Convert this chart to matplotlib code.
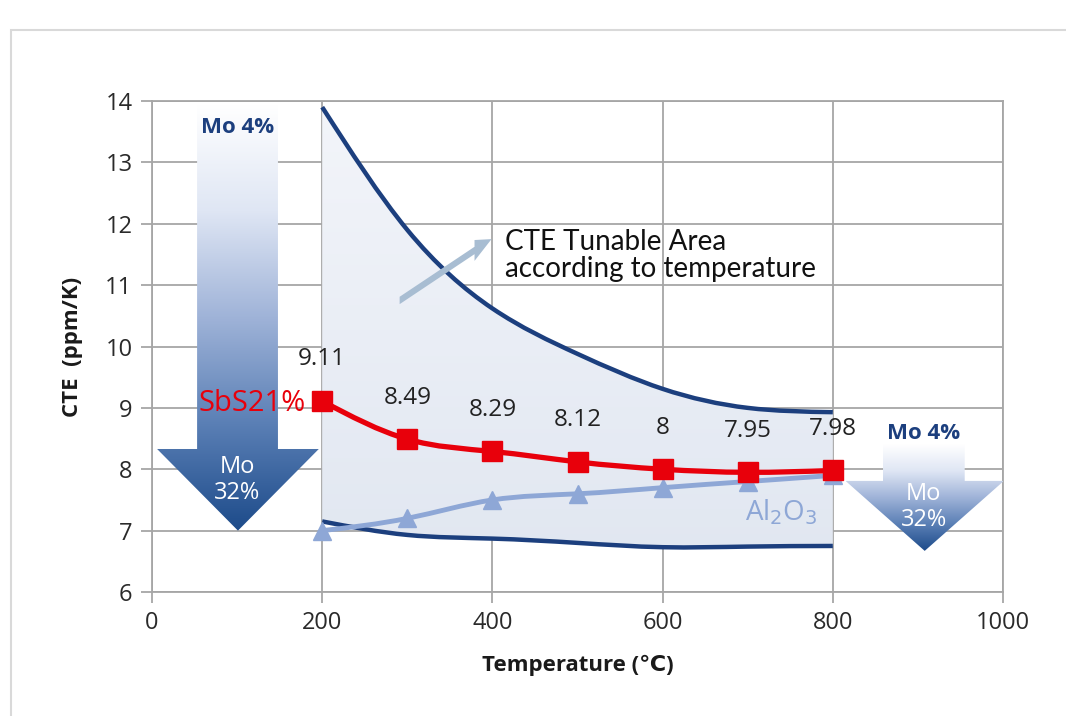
import numpy as np
import matplotlib
matplotlib.use("Agg")
import matplotlib.pyplot as plt
from matplotlib.path import Path
from matplotlib.patches import PathPatch, Polygon, Rectangle, FancyArrow
from matplotlib.colors import LinearSegmentedColormap

# data
temps = [200, 300, 400, 500, 600, 700, 800]
sbs21 = [9.11, 8.49, 8.29, 8.12, 8.00, 7.95, 7.98]
al2o3 = [7.0, 7.2, 7.5, 7.6, 7.7, 7.8, 7.9]
upper_bound = [13.9, 11.9, 10.62, 9.88, 9.31, 9.0, 8.93]
lower_bound = [7.15, 6.93, 6.87, 6.80, 6.73, 6.74, 6.75]
sbs_labels = ["9.11", "8.49", "8.29", "8.12", "8", "7.95", "7.98"]

DARK = "#1c3f7e"
RED = "#e8000b"
LIGHT = "#8ea7d6"
FONT = ["Open Sans", "DejaVu Sans"]


def smooth_path(xs, ys):
    """Natural cubic spline through the points, as bezier segments."""
    xs = np.asarray(xs, float)
    ys = np.asarray(ys, float)
    n = len(xs)
    h = np.diff(xs)
    # tangent system of a natural spline
    A = np.zeros((n, n))
    b = np.zeros(n)
    A[0, 0], A[0, 1] = 2 / h[0], 1 / h[0]
    b[0] = 3 * (ys[1] - ys[0]) / h[0] ** 2
    A[-1, -2], A[-1, -1] = 1 / h[-1], 2 / h[-1]
    b[-1] = 3 * (ys[-1] - ys[-2]) / h[-1] ** 2
    for i in range(1, n - 1):
        A[i, i - 1] = 1 / h[i - 1]
        A[i, i] = 2 / h[i - 1] + 2 / h[i]
        A[i, i + 1] = 1 / h[i]
        b[i] = 3 * ((ys[i] - ys[i - 1]) / h[i - 1] ** 2
                    + (ys[i + 1] - ys[i]) / h[i] ** 2)
    m = np.linalg.solve(A, b)
    verts = [(xs[0], ys[0])]
    codes = [Path.MOVETO]
    for i in range(n - 1):
        d = h[i] / 3
        verts += [(xs[i] + d, ys[i] + d * m[i]),
                  (xs[i + 1] - d, ys[i + 1] - d * m[i + 1]),
                  (xs[i + 1], ys[i + 1])]
        codes += [Path.CURVE4] * 3
    return Path(np.array(verts), codes)


def gradient_arrow(ax, x0, x1, hx0, hx1, top, neck, tip):
    xc = (hx0 + hx1) / 2
    poly = [(x0, top), (x1, top), (x1, neck), (hx1, neck), (xc, tip),
            (hx0, neck), (x0, neck)]
    patch = Polygon(poly, closed=True, facecolor="none", edgecolor="none")
    ax.add_patch(patch)
    cmap = LinearSegmentedColormap.from_list(
        "mo", ["#ffffff", "#dfe6f4", "#9fb3d8", "#5a7fb5", "#1d4b8a"])
    grad = np.linspace(0, 1, 256).reshape(-1, 1)
    im = ax.imshow(grad, cmap=cmap, extent=[hx0, hx1, tip, top],
                   origin="upper", aspect="auto", zorder=4)
    im.set_clip_path(patch)


plt.rcParams["font.family"] = FONT
fig = plt.figure(figsize=(10.66, 7.16), dpi=100)
fig.patches.append(Rectangle((11 / 1066, -0.05), 1.1, 1 - 30 / 716 + 0.05,
                             transform=fig.transFigure, fill=False,
                             edgecolor="#d9d9d9", lw=1.5))
ax = fig.add_axes([152 / 1066, 1 - 592 / 716, 851 / 1066, 491 / 716])

ax.set_xlim(0, 1000)
ax.set_ylim(6, 14)
ax.set_xticks(range(0, 1001, 200))
ax.set_yticks(range(6, 15))
ax.grid(True, color="#a6a6a6", lw=1.3)
ax.set_axisbelow(True)
for s in ax.spines.values():
    s.set_color("#a6a6a6")
    s.set_linewidth(1.3)
ax.tick_params(colors="#a6a6a6", length=8, width=1.3, labelcolor="#2a2a2a",
               labelsize=17, pad=6)
ax.set_xlabel("Temperature (℃)", fontsize=16, fontweight="bold",
              labelpad=14, color="#1a1a1a")
ax.set_ylabel("CTE  (ppm/K)", fontsize=16, fontweight="bold",
              labelpad=16, color="#1a1a1a")

# tunable area between the bounds
up = smooth_path(temps, upper_bound)
lo = smooth_path(temps[::-1], lower_bound[::-1])
area_verts = np.vstack([up.vertices, [[temps[-1], lower_bound[-1]]],
                        lo.vertices[1:], [[temps[0], upper_bound[0]]]])
area_codes = ([Path.MOVETO] + list(up.codes[1:]) + [Path.LINETO]
              + list(lo.codes[1:]) + [Path.CLOSEPOLY])
area = PathPatch(Path(area_verts, area_codes), facecolor="none",
                 edgecolor="none")
ax.add_patch(area)
fill_cmap = LinearSegmentedColormap.from_list("fill", ["#f3f5fa", "#e1e7f1"])
fim = ax.imshow(np.linspace(0, 1, 256).reshape(-1, 1), cmap=fill_cmap,
                extent=[200, 800, 6.5, 14], origin="upper", aspect="auto",
                zorder=1)
fim.set_clip_path(area)

ax.add_patch(PathPatch(up, facecolor="none", edgecolor=DARK, lw=3.2,
                       zorder=3, capstyle="butt"))
ax.add_patch(PathPatch(smooth_path(temps, lower_bound), facecolor="none",
                       edgecolor=DARK, lw=3.2, zorder=3, capstyle="butt"))

# Al2O3
ax.add_patch(PathPatch(smooth_path(temps, al2o3), facecolor="none",
                       edgecolor=LIGHT, lw=3.5, zorder=5))
ax.plot(temps, al2o3, ls="none", marker="^", ms=13, color=LIGHT, zorder=5,
        clip_on=False)
ax.text(740, 7.3, "Al$_2$O$_3$", color=LIGHT, fontsize=20, ha="center",
        va="center", zorder=6)

# SbS21%
ax.add_patch(PathPatch(smooth_path(temps, sbs21), facecolor="none",
                       edgecolor=RED, lw=3.8, zorder=6))
ax.plot(temps, sbs21, ls="none", marker="s", ms=14, color=RED, zorder=7,
        clip_on=False)
for t, v, lab in zip(temps, sbs21, sbs_labels):
    ax.annotate(lab, (t, v), xytext=(0, 30), textcoords="offset points",
                ha="center", va="center", fontsize=17.5, color="#222222",
                zorder=8)
ax.text(181, 9.07, "SbS21%", color=RED, fontsize=21, ha="right",
        va="center", zorder=8)

# Mo arrows
gradient_arrow(ax, 53, 148, 6, 196, 13.95, 8.33, 7.0)
ax.text(100, 13.57, "Mo 4%", color=DARK, fontsize=16, fontweight="bold",
        ha="center", va="center", zorder=6)
ax.text(100, 7.82, "Mo\n32%", color="white", fontsize=17, ha="center",
        va="center", linespacing=1.1, zorder=6)

gradient_arrow(ax, 859, 955, 815, 1001, 8.4, 7.81, 6.67)
ax.text(907, 8.58, "Mo 4%", color=DARK, fontsize=16, fontweight="bold",
        ha="center", va="center", zorder=6)
ax.text(907, 7.39, "Mo\n32%", color="white", fontsize=17, ha="center",
        va="center", linespacing=1.1, zorder=6)

# tunable area note
ax.add_patch(FancyArrow(291, 10.75, 108, 1.0, width=0.12, head_width=0.34,
                        head_length=20, color="#a8bdd2", lw=0, zorder=4,
                        length_includes_head=True))
ax.text(415, 11.48, "CTE Tunable Area\naccording to temperature",
        family=["Lato", "DejaVu Sans"], fontsize=20, color="#111111",
        ha="left", va="center", linespacing=1.05, zorder=6)

ax.set_xlim(0, 1000)
ax.set_ylim(6, 14)
fig.savefig("out.png", dpi=100)
